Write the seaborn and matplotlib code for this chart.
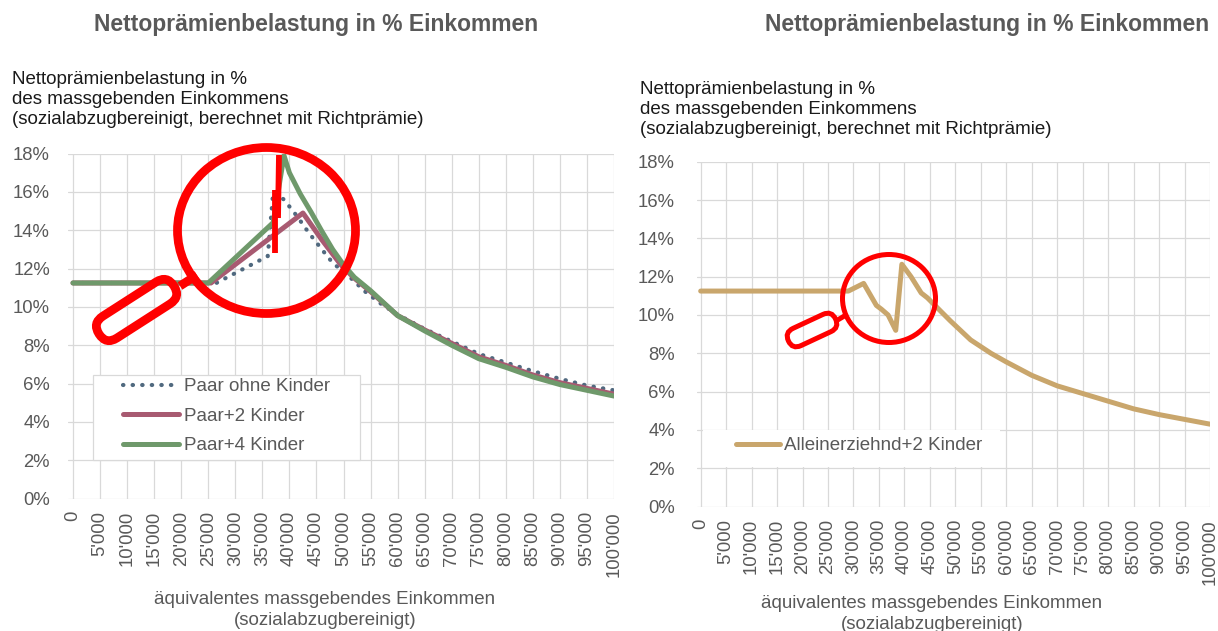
import pandas as pd
import matplotlib
matplotlib.use('Agg')
import matplotlib.pyplot as plt
import matplotlib.transforms as mtransforms
from matplotlib.patches import Ellipse, FancyBboxPatch, Rectangle
from matplotlib.ticker import FuncFormatter, MultipleLocator
import seaborn as sns

# Werte (Einkommen in CHF, Belastung in %)
titel = "Nettoprämienbelastung in % Einkommen"
y_titel = "Nettoprämienbelastung in %\ndes massgebenden Einkommens\n(sozialabzugbereinigt, berechnet mit Richtprämie)"
x_titel = "äquivalentes massgebendes Einkommen\n(sozialabzugbereinigt)"

paar_ohne_x = [0, 26500, 36000, 37000, 39000, 41500, 43500, 46000, 48000, 51000, 54000,
               57000, 60000, 65000, 70000, 75000, 80000, 85000, 90000, 95000, 100000]
paar_ohne_y = [11.25, 11.25, 12.65, 16.0, 15.6, 14.7, 13.9, 13.0, 12.3, 11.6, 10.8,
               10.15, 9.6, 8.85, 8.2, 7.55, 7.1, 6.65, 6.25, 5.9, 5.65]

paar2_x = [0, 25500, 42500, 46000, 49500, 52000, 55000, 60000, 65000, 70000, 75000,
           80000, 85000, 90000, 95000, 100000]
paar2_y = [11.25, 11.25, 14.9, 13.5, 12.2, 11.5, 10.8, 9.55, 8.8, 8.1, 7.4,
           6.95, 6.45, 6.05, 5.75, 5.45]

paar4_x = [0, 25000, 37000, 39000, 40000, 42000, 44000, 46000, 48000, 50000, 52000,
           55000, 60000, 65000, 70000, 75000, 80000, 85000, 90000, 95000, 100000]
paar4_y = [11.25, 11.25, 14.4, 17.9, 17.0, 15.9, 14.95, 13.95, 13.0, 12.2, 11.55,
           10.85, 9.55, 8.75, 8.0, 7.3, 6.85, 6.35, 5.95, 5.65, 5.35]

allein_x = [0, 29000, 32000, 34500, 35500, 36800, 38300, 39500, 41300, 43300, 44500,
            46000, 49000, 51000, 53000, 57000, 60000, 65000, 70000, 75000, 80000,
            85000, 90000, 95000, 100000]
allein_y = [11.25, 11.25, 11.65, 10.5, 10.3, 10.0, 9.2, 12.65, 12.0, 11.15, 10.9,
            10.5, 9.7, 9.2, 8.7, 8.0, 7.55, 6.85, 6.3, 5.9, 5.5,
            5.1, 4.8, 4.55, 4.3]

sns.set_style('whitegrid')
plt.rcParams['font.family'] = ['Liberation Sans', 'DejaVu Sans']

GRAU = '#595959'
GITTER = '#D9D9D9'
W, H = 1218, 631

fig = plt.figure(figsize=(W / 100, H / 100), dpi=100)


def rect(x0, y0, x1, y1):
    # Pixelkoordinaten (oben links) -> Figure-Anteile
    return [x0 / W, 1 - y1 / H, (x1 - x0) / W, (y1 - y0) / H]


def fpos(x, y):
    return x / W, 1 - y / H


ax1 = fig.add_axes(rect(68, 153.6, 614, 498.6))
ax2 = fig.add_axes(rect(697, 161.8, 1210, 506.5))

df_ohne = pd.DataFrame({'einkommen': paar_ohne_x, 'belastung': paar_ohne_y})
df_p2 = pd.DataFrame({'einkommen': paar2_x, 'belastung': paar2_y})
df_p4 = pd.DataFrame({'einkommen': paar4_x, 'belastung': paar4_y})
df_all = pd.DataFrame({'einkommen': allein_x, 'belastung': allein_y})

sns.lineplot(data=df_ohne, x='einkommen', y='belastung', ax=ax1, color='#50697F',
             lw=3.0, linestyle=(0, (0.1, 2.2)), dash_capstyle='round',
             label='Paar ohne Kinder')
sns.lineplot(data=df_p2, x='einkommen', y='belastung', ax=ax1, color='#A85A71',
             lw=3.6, solid_capstyle='round', label='Paar+2 Kinder')
sns.lineplot(data=df_p4, x='einkommen', y='belastung', ax=ax1, color='#6F996B',
             lw=3.6, solid_capstyle='round', label='Paar+4 Kinder')
sns.lineplot(data=df_all, x='einkommen', y='belastung', ax=ax2, color='#C9A66C',
             lw=3.6, solid_capstyle='round', label='Alleinerziehnd+2 Kinder')

fmt_x = FuncFormatter(lambda v, p: f"{int(round(v)):,}".replace(',', "'"))
fmt_y = FuncFormatter(lambda v, p: f"{v:.0f}%")

for ax, xmin, ypad in [(ax1, -925, 13), (ax2, -720, 16)]:
    ax.set_xlim(xmin, 100000)
    ax.set_ylim(0, 18)
    ax.xaxis.set_major_locator(MultipleLocator(5000))
    ax.yaxis.set_major_locator(MultipleLocator(2))
    ax.xaxis.set_major_formatter(fmt_x)
    ax.yaxis.set_major_formatter(fmt_y)
    ax.grid(True, color=GITTER, lw=0.9)
    for s in ax.spines.values():
        s.set_visible(False)
    ax.tick_params(axis='x', rotation=90, labelsize=13.3, labelcolor=GRAU, length=0, pad=9)
    ax.tick_params(axis='y', labelsize=13.3, labelcolor=GRAU, length=0, pad=ypad)
    ax.set_xlabel('')
    ax.set_ylabel('')
    ax.get_legend().remove()

# Legenden (weisse Box ueber dem Gitter)
ax1.add_patch(Rectangle(fpos(93, 460), 267 / W, 85 / H, transform=fig.transFigure,
                        facecolor='white', edgecolor=GITTER, lw=0.9, zorder=3))
ax2.add_patch(Rectangle(fpos(703, 467), 297 / W, 37 / H, transform=fig.transFigure,
                        facecolor='white', edgecolor='none', zorder=3))

h1, l1 = ax1.get_legend_handles_labels()
leg1 = ax1.legend(h1, l1, loc='upper left', bbox_to_anchor=fpos(123, 378),
                  bbox_transform=fig.transFigure, frameon=False, fontsize=13.5,
                  labelcolor=GRAU, handlelength=3.0, handletextpad=0.27,
                  labelspacing=0.66, borderpad=0, borderaxespad=0)
leg1.set_zorder(5)
h2, l2 = ax2.get_legend_handles_labels()
leg2 = ax2.legend(h2, l2, loc='upper left', bbox_to_anchor=fpos(736, 437),
                  bbox_transform=fig.transFigure, frameon=False, fontsize=13.5,
                  labelcolor=GRAU, handlelength=2.35, handletextpad=0.2,
                  borderpad=0, borderaxespad=0)
leg2.set_zorder(5)

# Texte
fig.text(*fpos(316, 25), titel, ha='center', va='center', fontsize=16.5,
         fontweight='bold', color=GRAU)
fig.text(*fpos(987, 25), titel, ha='center', va='center', fontsize=16.5,
         fontweight='bold', color=GRAU)
fig.text(*fpos(12, 71), y_titel, ha='left', va='top', fontsize=13.5,
         linespacing=1.22, color='#1a1a1a')
fig.text(*fpos(640, 81), y_titel, ha='left', va='top', fontsize=13.5,
         linespacing=1.22, color='#1a1a1a')
fig.text(*fpos(325, 591), x_titel, ha='center', va='top', fontsize=13.5,
         linespacing=1.3, color=GRAU)
fig.text(*fpos(932, 595), x_titel, ha='center', va='top', fontsize=13.5,
         linespacing=1.3, color=GRAU)

# rote Lupen-Markierungen
axo = fig.add_axes([0, 0, 1, 1], zorder=10)
axo.set_xlim(0, W)
axo.set_ylim(H, 0)
axo.axis('off')
axo.patch.set_alpha(0)


def lupe(cx, cy, ew, eh, kx, ky, kl, kw, winkel, stiel, lw):
    axo.add_patch(Ellipse((cx, cy), ew, eh, fill=False, ec='red', lw=lw))
    tr = mtransforms.Affine2D().rotate_deg_around(kx, ky, winkel) + axo.transData
    axo.add_patch(FancyBboxPatch((kx - kl / 2, ky - kw / 2), kl, kw,
                                 boxstyle=f"round,pad=0,rounding_size={kw / 2}",
                                 fill=False, ec='red', lw=lw, transform=tr))
    axo.plot(stiel[0], stiel[1], color='red', lw=lw, solid_capstyle='butt')


lupe(266.5, 230.5, 178, 166, 136.5, 310, 89, 26, -32.7, ([180, 197], [286, 275]), 6.3)
lupe(889, 298.5, 93, 88, 812, 330, 52, 19, -25, ([836, 846], [321, 315]), 3.6)
axo.plot([279, 278], [155, 218], color='red', lw=4.2, solid_capstyle='butt')
axo.plot([274.5, 274.5], [190, 253], color='red', lw=4.2, solid_capstyle='butt')

fig.savefig('out.png', dpi=100)
